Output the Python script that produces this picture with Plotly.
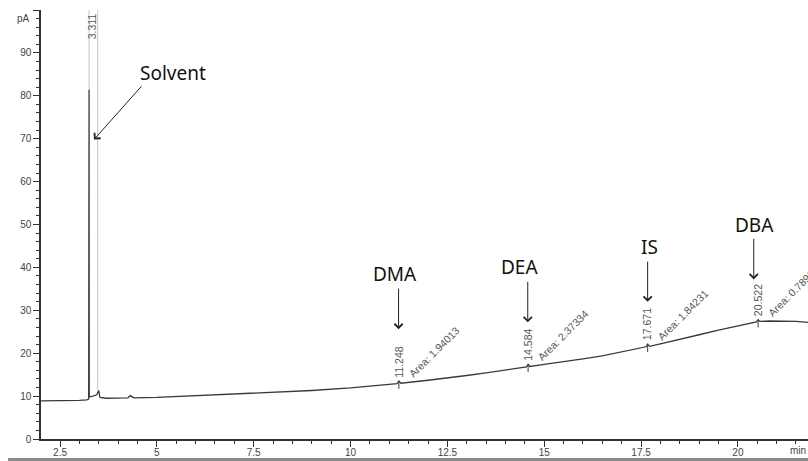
import plotly.graph_objects as go

# ---------------- data ----------------
time_min = [2.01, 2.5, 3.0, 3.19, 3.24, 3.25, 3.255, 3.35, 3.45, 3.50, 3.53, 3.7, 4.0,
            4.25, 4.32, 4.40, 5.0, 6.0, 7.0, 7.5, 8.0, 9.0, 10.0, 11.0,
            11.20, 11.248, 11.30, 12.0, 12.5, 13.0, 13.5, 14.0, 14.5,
            14.54, 14.584, 14.63, 15.0, 15.5, 16.0, 16.5, 17.0, 17.5,
            17.63, 17.671, 17.72, 18.0, 18.5, 19.0, 19.5, 20.0, 20.3,
            20.48, 20.522, 20.57, 20.8, 21.0, 21.5, 21.82]
signal_pA = [8.9, 8.9, 9.0, 9.1, 9.3, 81.4, 9.8, 10.0, 10.3, 11.3, 9.7, 9.5, 9.5,
             9.6, 10.1, 9.6, 9.7, 10.1, 10.4, 10.6, 10.9, 11.3, 11.9, 12.7,
             12.9, 13.5, 13.0, 13.7, 14.2, 14.8, 15.4, 16.0, 16.7,
             16.8, 17.4, 16.9, 17.4, 18.0, 18.7, 19.4, 20.3, 21.2,
             21.5, 22.1, 21.6, 22.2, 23.2, 24.3, 25.4, 26.4, 27.0,
             27.3, 27.8, 27.4, 27.5, 27.5, 27.4, 27.2]

# off-scale part of the solvent peak (drawn light grey)
offscale_time = [3.25, 3.25, None, 3.47, 3.47]
offscale_pA = [81.4, 101, None, 101, 11.2]

peak_names = ["DMA", "DEA", "IS", "DBA"]
peak_times = [11.248, 14.584, 17.671, 20.522]
peak_base = [13.0, 16.9, 21.6, 27.3]
peak_areas = ["1.94013", "2.37334", "1.84231", "0.78962"]

# big labels: text position and arrow (tail -> head), in data units
label_text = ["Solvent", "DMA", "DEA", "IS", "DBA"]
label_x = [5.42, 11.15, 14.35, 17.73, 20.42]
label_y = [85.4, 38.4, 40.0, 44.7, 50.0]
arrow_tail_x = [4.64, 11.24, 14.575, 17.67, 20.41]
arrow_tail_y = [82.6, 35.4, 37.0, 41.7, 47.0]
arrow_head_x = [3.377, 11.24, 14.575, 17.67, 20.41]
arrow_head_y = [69.8, 25.6, 27.2, 32.0, 37.2]

x_tick_vals = [2.5, 5, 7.5, 10, 12.5, 15, 17.5, 20]
x_tick_text = ["2.5", "5", "7.5", "10", "12.5", "15", "17.5", "20"]
y_tick_vals = [0, 10, 20, 30, 40, 50, 60, 70, 80, 90, 100]
y_tick_text = ["0", "10", "20", "30", "40", "50", "60", "70", "80", "90", ""]

solvent_time = 3.311

# ---------------- figure ----------------
fig = go.Figure()

fig.add_trace(go.Scatter(x=offscale_time, y=offscale_pA, mode="lines",
                         line=dict(color="#cfcfcf", width=1.2), hoverinfo="skip",
                         showlegend=False, cliponaxis=True))

fig.add_trace(go.Scatter(x=time_min, y=signal_pA, mode="lines",
                         line=dict(color="#3a3a3a", width=1.3),
                         showlegend=False))

# integration tick marks at peaks
mk_x, mk_y = [], []
for t, b in zip(peak_times, peak_base):
    mk_x += [t, t, None]
    mk_y += [b - 1.3, b + 0.3, None]
fig.add_trace(go.Scatter(x=mk_x, y=mk_y, mode="lines",
                         line=dict(color="#3a3a3a", width=1), showlegend=False))

lab_font = dict(family="Liberation Sans, Arial", size=10.5, color="#555555")

# retention-time labels and area labels
for t, b, a in zip(peak_times, peak_base, peak_areas):
    fig.add_annotation(x=t, y=b + 0.9, text=f"{t:.3f}", textangle=-90,
                       showarrow=False, xanchor="center", yanchor="bottom",
                       font=lab_font)
    fig.add_annotation(x=t + 0.12, y=b + 0.2, text=f"Area: {a}", textangle=-45,
                       showarrow=False, xanchor="left", yanchor="bottom",
                       font=lab_font)

fig.add_annotation(x=solvent_time, y=99.8, text=f"{solvent_time:.3f}", textangle=-90,
                   showarrow=False, xanchor="center", yanchor="top", font=lab_font)

big_font = dict(family="Noto Sans", size=19, color="#111111")
for txt, lx, ly in zip(label_text, label_x, label_y):
    fig.add_annotation(x=lx, y=ly, text=txt, showarrow=False,
                       xanchor="center", yanchor="middle", font=big_font)
for tx, ty, hx, hy in zip(arrow_tail_x, arrow_tail_y, arrow_head_x, arrow_head_y):
    fig.add_annotation(x=hx, y=hy, ax=tx, ay=ty, axref="x", ayref="y",
                       text="", showarrow=True, arrowhead=4, arrowsize=1.6,
                       arrowwidth=1, arrowcolor="#222222", standoff=0, startstandoff=0)

# axis unit labels
fig.add_annotation(xref="paper", yref="paper", x=-0.012, y=0.98, text="pA",
                   showarrow=False, xanchor="right", yanchor="middle",
                   font=dict(family="Liberation Sans, Arial", size=10, color="#444444"))
fig.add_annotation(xref="paper", yref="paper", x=1.0, y=-0.026, text="min",
                   showarrow=False, xanchor="right", yanchor="middle",
                   font=dict(family="Liberation Sans, Arial", size=10, color="#444444"))

# bottom grey frame edge
fig.add_shape(type="rect", xref="paper", yref="paper", x0=-0.043, x1=1.01,
              y0=-0.051, y1=-0.044, line=dict(width=0), fillcolor="#8a8a8a")

tick_font = dict(family="Liberation Sans, Arial", size=10, color="#444444")
fig.update_xaxes(range=[2.009, 21.81], tickmode="array", tickvals=x_tick_vals,
                 ticktext=x_tick_text, ticks="outside", ticklen=6, tickwidth=1.2,
                 tickcolor="#333333", showline=True, linecolor="#333333", linewidth=1.5,
                 showgrid=False, zeroline=False, tickfont=tick_font, ticklabelstandoff=-3,
                 minor=dict(dtick=0.5, tick0=0, ticks="outside", ticklen=3,
                            tickcolor="#333333", tickwidth=1.2, showgrid=False))
fig.update_yaxes(range=[0, 100], tickmode="array", tickvals=y_tick_vals,
                 ticktext=y_tick_text, ticks="outside", ticklen=6, tickwidth=1.2,
                 tickcolor="#333333", showline=True, linecolor="#333333", linewidth=1.5,
                 showgrid=False, zeroline=False, tickfont=tick_font,
                 minor=dict(dtick=2, tick0=0, ticks="outside", ticklen=3,
                            tickcolor="#333333", tickwidth=1.2, showgrid=False))

fig.update_layout(width=808, height=461, margin=dict(l=41, r=0, t=10, b=22, autoexpand=False),
                  plot_bgcolor="white", paper_bgcolor="white", showlegend=False)

fig.write_html("out.html", config={"displayModeBar": False},
               post_script="document.body.style.margin='0';document.body.style.overflow='hidden';")
